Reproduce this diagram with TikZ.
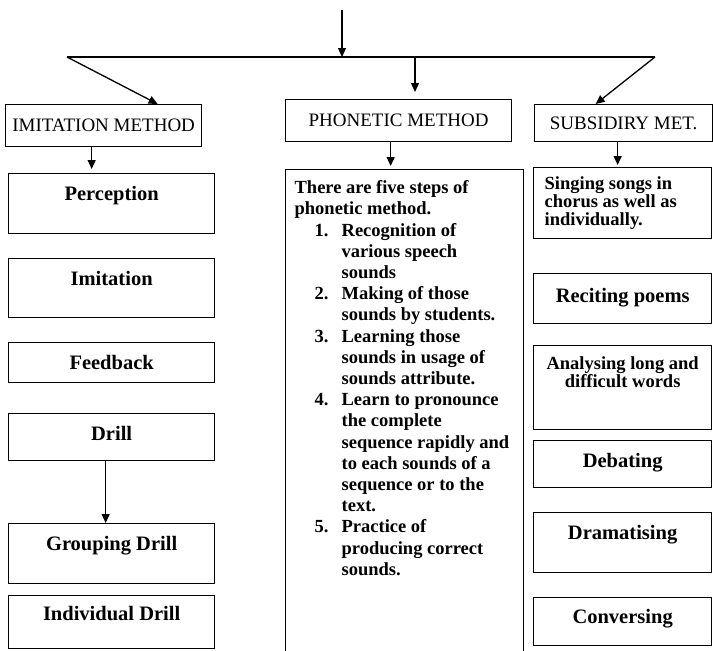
\documentclass[tikz,border=0pt]{standalone}
\usepackage{fontspec}
\setmainfont{Liberation Serif}
\usepackage{tikz}
\usetikzlibrary{positioning, arrows.meta}

\newcommand{\phonnum}[2]{\hspace*{20pt}\makebox[27pt][l]{#1}#2}
\newcommand{\phoncont}[1]{\hspace*{47pt}#1}

\begin{document}
\begin{tikzpicture}[x=1pt, y=-1pt,
    head/.style={rectangle, draw=black, line width=1.3pt, anchor=north west,
                 inner sep=0pt, font=\fontsize{19}{21}\selectfont},
    stepbox/.style={rectangle, draw=black, line width=1.3pt, anchor=north west,
                    inner sep=0pt, text height=27pt, font=\bfseries\fontsize{20.5}{24}\selectfont},
    smallbox/.style={stepbox, font=\bfseries\fontsize{18.5}{18}\selectfont},
    arrow/.style={-{Triangle[length=9pt, width=8pt]}, line width=1.3pt}
]
    \useasboundingbox (0,0) rectangle (713,651);

    % Split at the top
    \coordinate (top) at (342,10);
    \coordinate (splitL) at (67,57);
    \coordinate (splitM) at (415,57);
    \coordinate (splitR) at (655,57);

    % Method headers
    \node[head, minimum width=196pt, minimum height=42pt] (imit) at (5,104) {IMITATION METHOD};
    \node[head, minimum width=226pt, minimum height=42pt] (phon) at (285,99) {PHONETIC METHOD};
    \node[head, minimum width=178pt, minimum height=37pt] (subs) at (534,104) {SUBSIDIRY MET.};

    % Imitation method
    \node[stepbox, minimum width=206pt, minimum height=60pt, text depth=33pt] (perc) at (8,173) {Perception};
    \node[stepbox, minimum width=206pt, minimum height=59pt, text depth=32pt] (imitate) at (8,258) {Imitation};
    \node[stepbox, minimum width=206pt, minimum height=40pt, text depth=13pt] (feed) at (8,342) {Feedback};
    \node[stepbox, minimum width=206pt, minimum height=47pt, text depth=20pt] (drill) at (8,413) {Drill};
    \node[stepbox, minimum width=206pt, minimum height=60pt, text depth=33pt] (group) at (8,523) {Grouping Drill};
    \node[stepbox, minimum width=206pt, minimum height=53pt, text height=25pt, text depth=28pt] (indiv) at (8,595) {Individual Drill};

    % Phonetic method
    \node[smallbox, minimum width=238pt, minimum height=486pt, text height=24pt, text depth=462pt,
          font=\bfseries\fontsize{18.5}{21.2}\selectfont] (steps) at (285,169) {\parbox[t]{220pt}{%
        There are five steps of\\
        phonetic method.\\
        \phonnum{1.}{Recognition of}\\
        \phoncont{various speech}\\
        \phoncont{sounds}\\
        \phonnum{2.}{Making of those}\\
        \phoncont{sounds by students.}\\
        \phonnum{3.}{Learning those}\\
        \phoncont{sounds in usage of}\\
        \phoncont{sounds attribute.}\\
        \phonnum{4.}{Learn to pronounce}\\
        \phoncont{the complete}\\
        \phoncont{sequence rapidly and}\\
        \phoncont{to each sounds of a}\\
        \phoncont{sequence or to the}\\
        \phoncont{text.}\\
        \phonnum{5.}{Practice of}\\
        \phoncont{producing correct}\\
        \phoncont{sounds.}}};

    % Subsidiary method
    \node[smallbox, minimum width=178pt, minimum height=71pt, text height=22pt, text depth=49pt] (sing) at (533,167)
        {\parbox[t]{156pt}{Singing songs in\\chorus as well as\\individually.}};
    \node[stepbox, minimum width=178pt, minimum height=50pt, text height=29pt, text depth=21pt] (recite) at (533,273) {Reciting poems};
    \node[smallbox, minimum width=178pt, minimum height=84pt, text height=24pt, text depth=60pt] (analyse) at (533,345)
        {\parbox[t]{170pt}{\centering Analysing long and\\difficult words}};
    \node[stepbox, minimum width=178pt, minimum height=47pt, text depth=20pt] (debate) at (533,440) {Debating};
    \node[stepbox, minimum width=178pt, minimum height=60pt, text depth=33pt] (drama) at (533,512) {Dramatising};
    \node[stepbox, minimum width=178pt, minimum height=48pt, text height=26pt, text depth=22pt] (converse) at (533,597) {Conversing};

    % Top arrows
    \draw[arrow] (top) -- (top |- splitL);
    \draw[line width=1.3pt] (splitL) -- (splitR);
    \draw[arrow] (splitL) -- ([xshift=54pt]imit.north);
    \draw[arrow, shorten >=7pt] (splitM) -- (splitM |- phon.north);
    \draw[arrow] (splitR) -- ([xshift=-28pt]subs.north);

    % Down arrows
    \draw[arrow, shorten >=4pt] ([xshift=-12pt]imit.south) -- ([xshift=-12pt]imit.south |- perc.north);
    \draw[arrow, shorten >=3pt] ([xshift=-8pt]phon.south) -- ([xshift=-8pt]phon.south |- steps.north);
    \draw[arrow, shorten >=2pt] ([xshift=-6pt]subs.south) -- ([xshift=-6pt]subs.south |- sing.north);
    \draw[arrow] ([xshift=-6pt]drill.south) -- ([xshift=-6pt]drill.south |- group.north);

\end{tikzpicture}
\end{document}
